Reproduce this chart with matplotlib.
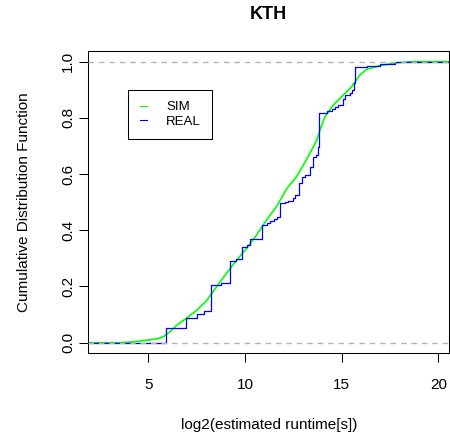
import matplotlib
matplotlib.use("Agg")
import matplotlib.pyplot as plt

plt.rcParams['font.family'] = ['Liberation Sans', 'DejaVu Sans']

sim_x = [1.0, 3.5, 4.05, 4.5, 4.92, 5.43, 5.78, 6.12, 6.47, 6.99, 7.50, 8.02,
         8.53, 9.05, 9.57, 10.09, 10.60, 11.12, 11.64, 12.16, 12.67, 13.02,
         13.36, 13.71, 13.88, 14.14, 14.57, 15.09, 15.52, 15.95, 16.30, 16.99,
         17.85, 18.7, 21.5]
sim_y = [0.0, 0.0, 0.002, 0.005, 0.009, 0.014, 0.021, 0.039, 0.062, 0.088,
         0.115, 0.150, 0.199, 0.247, 0.294, 0.336, 0.383, 0.437, 0.485, 0.548,
         0.591, 0.632, 0.674, 0.720, 0.757, 0.804, 0.846, 0.881, 0.911, 0.953,
         0.973, 0.986, 0.996, 1.0, 1.0]

# REAL: step function (jump position, level after the jump)
real_x = [1.0, 5.92, 6.93, 7.50, 7.90, 8.23, 8.75, 9.24, 9.55, 9.83, 10.10,
          10.26, 10.87, 11.15, 11.32, 11.50, 11.65, 11.81, 12.07, 12.25, 12.50,
          12.60, 12.81, 12.94, 13.11, 13.37, 13.54, 13.70, 13.79, 13.85, 14.22,
          14.48, 14.65, 14.82, 15.09, 15.18, 15.43, 15.52, 15.62, 15.71, 16.30,
          17.00, 17.76, 21.5]
real_y = [0.0, 0.053, 0.087, 0.101, 0.113, 0.205, 0.212, 0.292, 0.298, 0.342,
          0.348, 0.369, 0.419, 0.427, 0.433, 0.439, 0.446, 0.496, 0.500, 0.505,
          0.515, 0.526, 0.567, 0.591, 0.595, 0.626, 0.662, 0.668, 0.698, 0.816,
          0.826, 0.831, 0.840, 0.846, 0.866, 0.881, 0.887, 0.899, 0.923, 0.982,
          0.985, 0.990, 1.0, 1.0]

xticks = [5, 10, 15, 20]
yticks = [0.0, 0.2, 0.4, 0.6, 0.8, 1.0]

fig = plt.figure(figsize=(4.5, 4.36), dpi=100)
ax = fig.add_axes([0.1962, 0.1897, 0.8022, 0.6940])

ax.plot(sim_x, sim_y, color='#00FF00', lw=1.2, label='SIM', zorder=2)
ax.step(real_x, real_y, where='post', color='#0000FF', lw=0.9, label='REAL', zorder=2.5)

# dashed reference lines at 0 and 1
for h in (0, 1):
    ax.axhline(h, color='#B3B3B3', lw=1.0, linestyle=(0, (4, 3.5)), zorder=3)

ax.set_xlim(1.896, 20.57)
ax.set_ylim(-0.0377, 1.039)
ax.set_xticks(xticks)
ax.set_yticks(yticks)
ax.set_yticklabels(['%.1f' % v for v in yticks], rotation=90, va='center')
ax.tick_params(direction='out', length=6.5, width=0.75, labelsize=11)
ax.tick_params(axis='x', pad=11)
ax.tick_params(axis='y', pad=3)
for s in ax.spines.values():
    s.set_linewidth(0.75)

ax.set_title('KTH', fontsize=13, fontweight='bold', pad=23)
fig.text(268.8 / 450, 1 - 428.5 / 436, 'log2(estimated runtime[s])',
         ha='center', va='baseline', fontsize=11)
fig.text(24 / 450, 1 - 202 / 436, 'Cumulative Distribution Function',
         ha='center', va='center', rotation=90, fontsize=11)

leg = ax.legend(loc='upper left', bbox_to_anchor=(0.111, 0.870), borderaxespad=0,
                fancybox=False, edgecolor='black', framealpha=1, fontsize=9.5,
                handlelength=0.6, handletextpad=1.4, borderpad=0.85,
                labelspacing=0.15)
leg.get_frame().set_linewidth(0.75)
for line in leg.get_lines():
    line.set_linewidth(0.8)

fig.savefig('out.png', dpi=100)
